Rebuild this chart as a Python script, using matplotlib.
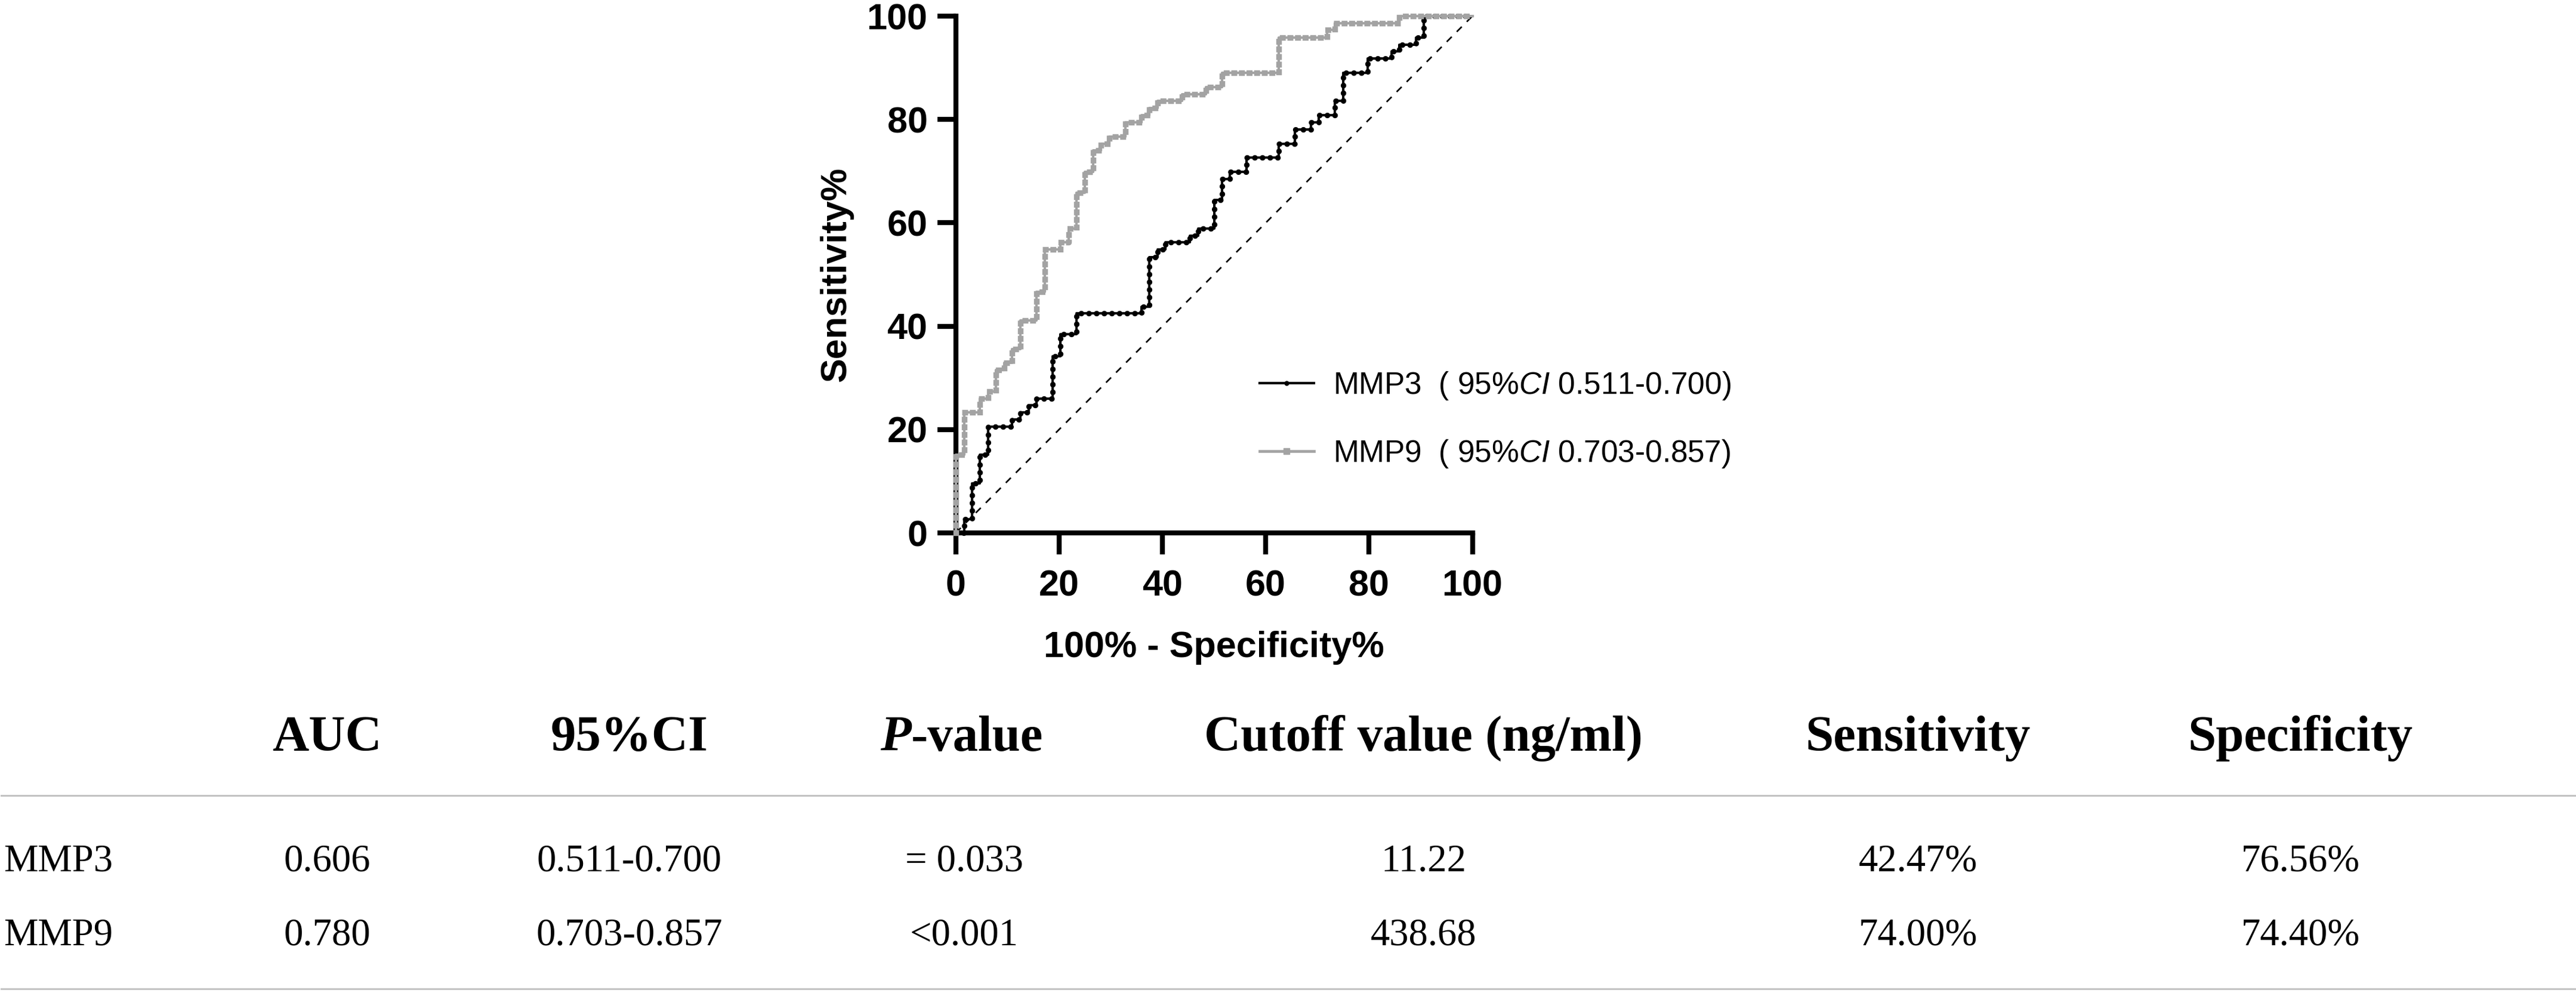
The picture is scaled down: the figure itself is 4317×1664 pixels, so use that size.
import matplotlib
matplotlib.use("Agg")
import matplotlib.pyplot as plt
from matplotlib.lines import Line2D
from matplotlib.font_manager import FontProperties

# ROC curves (x = 100% - specificity %, y = sensitivity %)
mmp3_fpr = [0, 1.6, 3.1, 4.7, 6.3, 10.9, 12.5, 14.1, 15.6, 18.8, 20.3, 23.4, 35.9, 37.5,
            39.1, 40.6, 45.3, 46.9, 50.0, 51.6, 53.1, 56.3, 62.5, 65.6, 68.8, 70.3, 73.4,
            75.0, 79.7, 84.4, 85.9, 89.1, 90.6, 100]
mmp3_tpr = [0, 2.7, 9.6, 15.1, 20.5, 21.9, 23.3, 24.7, 26.0, 34.2, 38.4, 42.5, 43.8, 53.4,
            54.8, 56.2, 57.5, 58.9, 64.4, 68.5, 69.9, 72.6, 75.3, 78.1, 79.5, 80.8, 83.6,
            89.0, 91.8, 93.2, 94.5, 95.9, 100, 100]
mmp9_fpr = [0, 0, 1.6, 4.7, 6.3, 7.8, 9.4, 10.9, 12.5, 15.6, 17.2, 20.3, 21.9, 23.4, 25.0,
            26.6, 28.1, 29.7, 32.8, 35.9, 37.5, 39.1, 43.8, 48.4, 51.6, 62.5, 71.9, 73.4,
            85.9, 100]
mmp9_tpr = [0, 15.1, 23.3, 26.0, 27.4, 31.5, 32.9, 35.6, 41.1, 46.6, 54.8, 56.2, 58.9, 65.8,
            69.9, 74.0, 75.3, 76.7, 79.5, 80.8, 82.2, 83.6, 84.9, 86.3, 89.0, 95.9, 97.3,
            98.6, 100, 100]
chance = [0, 100]
ticks = [0, 20, 40, 60, 80, 100]
legend_labels = [r"MMP3  ( 95%$\mathit{CI}$ 0.511-0.700)",
                 r"MMP9  ( 95%$\mathit{CI}$ 0.703-0.857)"]

# table under the plot
col_headers = ["AUC", "95%CI", "P-value", "Cutoff value (ng/ml)", "Sensitivity", "Specificity"]
row_names = ["MMP3", "MMP9"]
auc = ["0.606", "0.780"]
ci = ["0.511-0.700", "0.703-0.857"]
p_values = ["= 0.033", "<0.001"]
cutoff = ["11.22", "438.68"]
sens = ["42.47%", "74.00%"]
spec = ["76.56%", "74.40%"]

plt.rcParams['font.family'] = ['Liberation Sans', 'DejaVu Sans']
plt.rcParams['mathtext.fontset'] = 'custom'
plt.rcParams['mathtext.rm'] = 'Liberation Sans'
plt.rcParams['mathtext.it'] = 'Liberation Sans:italic'

W, H = 4317, 1664
GRAY = '#a3a3a3'


def fx(px):
    return px / W


def fy(py):
    return 1 - py / H


fig = plt.figure(figsize=(W / 100, H / 100), dpi=100)
ax = fig.add_axes([fx(1601.7), fy(893), fx(2467.5) - fx(1601.7), fy(27) - fy(893)])

# chance line
ax.plot(chance, chance, color='black', lw=1.9, linestyle=(0, (4.5, 4.5)), zorder=2)

# MMP3: black line with round dots
ax.plot(mmp3_fpr, mmp3_tpr, drawstyle='steps-post', color='black', lw=2.9,
        clip_on=False, zorder=3)
ax.plot(mmp3_fpr, mmp3_tpr, drawstyle='steps-post', color='black', lw=6.6,
        linestyle=(0, (0.05, 1.35)), dash_capstyle='round', clip_on=False, zorder=3.1)

# MMP9: gray line with square dots
ax.plot(mmp9_fpr, mmp9_tpr, drawstyle='steps-post', color=GRAY, lw=3.0,
        clip_on=False, zorder=3.2)
ax.plot(mmp9_fpr, mmp9_tpr, drawstyle='steps-post', color=GRAY, lw=6.8,
        linestyle=(0, (0.05, 1.3)), dash_capstyle='projecting', clip_on=False, zorder=3.3)

ax.set_xlim(0, 100)
ax.set_ylim(0, 100)
ax.set_xticks(ticks)
ax.set_yticks(ticks)
for s in ['top', 'right']:
    ax.spines[s].set_visible(False)
for s in ['left', 'bottom']:
    ax.spines[s].set_linewidth(6)

ax.tick_params(axis='both', direction='out', width=6, labelsize=44)
ax.tick_params(axis='x', length=26, pad=18)
ax.tick_params(axis='y', length=22, pad=12)
for lab in ax.get_xticklabels() + ax.get_yticklabels():
    lab.set_fontweight('bold')

ax.set_xlabel("100% - Specificity%", fontsize=44, fontweight='bold')
ax.xaxis.set_label_coords(0.5, -0.189)
ax.set_ylabel("Sensitivity%", fontsize=44, fontweight='bold')
ax.yaxis.set_label_coords(-0.198, 0.5)

h3 = Line2D([], [], color='black', lw=3.0, marker='o', ms=5)
h9 = Line2D([], [], color=GRAY, lw=3.4, marker='s', ms=6.5)
fig.legend([h3, h9], legend_labels, loc='center left',
           bbox_to_anchor=(fx(2111), fy(703.5)), frameon=False,
           prop=FontProperties(family='Liberation Sans', size=37),
           handlelength=1.77, handletextpad=0.62, labelspacing=1.17,
           borderpad=0, borderaxespad=0)

# ---- table ----
serif = 'Liberation Serif'
col_x = [548, 1055, 1612, 2386, 3214, 3855]
header_y = 1258
row_y = [1460, 1583]

for name, cx in zip(col_headers, col_x):
    if name == "P-value":
        continue
    fig.text(fx(cx), fy(header_y), name, ha='center', va='baseline',
             family=serif, fontweight='bold', fontsize=61)

# P-value header: italic P + "-value"
t_p = fig.text(0, fy(header_y), "P", ha='left', va='baseline', family=serif,
               fontweight='bold', fontstyle='italic', fontsize=61)
t_v = fig.text(0, fy(header_y), "-value", ha='left', va='baseline', family=serif,
               fontweight='bold', fontsize=61)
r = fig.canvas.get_renderer()
wp = t_p.get_window_extent(r).width
wv = t_v.get_window_extent(r).width
x0 = col_x[2] - (wp + wv) / 2
t_p.set_x(fx(x0))
t_v.set_x(fx(x0 + wp))

columns = [auc, ci, p_values, cutoff, sens, spec]
for i, ry in enumerate(row_y):
    fig.text(fx(6), fy(ry), row_names[i], ha='left', va='baseline',
             family=serif, fontsize=46.5)
    for col, cx in zip(columns, col_x):
        xx = cx + 4 if col is p_values else cx
        fig.text(fx(xx), fy(ry), col[i], ha='center', va='baseline',
                 family=serif, fontsize=46.5)

for ly in [1333, 1657]:
    fig.add_artist(Line2D([fx(2), 1], [fy(ly), fy(ly)], transform=fig.transFigure,
                          color='#c4c4c4', lw=2.2))

fig.savefig("out.png", dpi=100)
